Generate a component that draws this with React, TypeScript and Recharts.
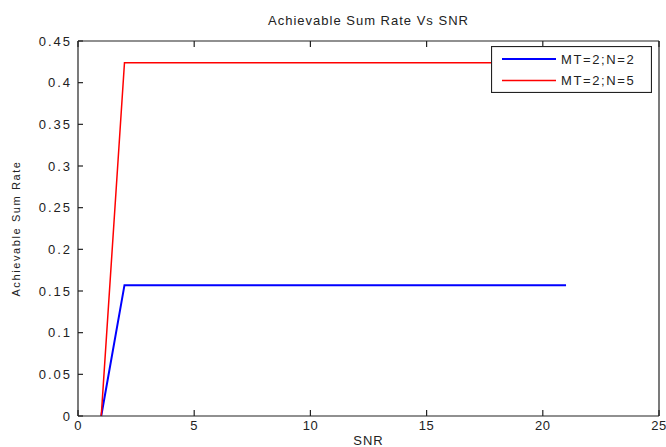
import React from "react";
import { LineChart, Line, XAxis, YAxis, Legend } from "recharts";

// SNR values and the two achievable sum rate curves
const snr = [1, 2, 3, 4, 5, 6, 7, 8, 9, 10, 11, 12, 13, 14, 15, 16, 17, 18, 19, 20, 21];
const rateN2 = [0, 0.157, 0.157, 0.157, 0.157, 0.157, 0.157, 0.157, 0.157, 0.157, 0.157, 0.157, 0.157, 0.157, 0.157, 0.157, 0.157, 0.157, 0.157, 0.157, 0.157];
const rateN5 = [0, 0.424, 0.424, 0.424, 0.424, 0.424, 0.424, 0.424, 0.424, 0.424, 0.424, 0.424, 0.424, 0.424, 0.424, 0.424, 0.424, 0.424, 0.424, 0.424, 0.424];

const xTicks = [0, 5, 10, 15, 20, 25];
const yTicks = [0, 0.05, 0.1, 0.15, 0.2, 0.25, 0.3, 0.35, 0.4, 0.45];
const seriesNames = ["MT=2;N=2", "MT=2;N=5"];
const seriesColors = ["#0000ff", "#ff0000"];

const data = snr.map((s, i) => ({ snr: s, n2: rateN2[i], n5: rateN5[i] }));

const FONT = "'Liberation Sans', Arial, sans-serif";
const axisColor = "#222";

const NoTick = () => <g />;

const LegendBox = () => (
  <svg width={161} height={47}>
    <rect x={0.5} y={0.5} width={160} height={46} fill="#fff" stroke={axisColor} strokeWidth={1.2} />
    {seriesNames.map((name, i) => (
      <g key={name}>
        <line x1={11} x2={65} y1={13 + i * 21.5} y2={13 + i * 21.5} stroke={seriesColors[i]} strokeWidth={i === 0 ? 2 : 1.5} />
        <text x={70} y={13 + i * 21.5} dy="0.36em" fontSize={13} letterSpacing={1.6} fill="#222" fontFamily={FONT}>
          {name}
        </text>
      </g>
    ))}
  </svg>
);

export default function App() {
  return (
    <div style={{ position: "absolute", left: 0, top: 0, width: 666, height: 447, background: "#fff", fontFamily: FONT }}>
      <LineChart width={666} height={447} data={data} margin={{ top: 40, right: 6, left: 0, bottom: 0 }}>
        <XAxis
          xAxisId="b"
          dataKey="snr"
          type="number"
          domain={[0, 25]}
          ticks={xTicks}
          height={31}
          tickSize={-6}
          tickMargin={11}
          stroke={axisColor}
          strokeWidth={1.2}
          tick={{ fill: "#222", fontSize: 13, fontFamily: FONT, letterSpacing: 0.5 }}
          label={{ value: "SNR", position: "insideBottom", offset: 2, fill: "#222", fontSize: 13, fontFamily: FONT, letterSpacing: 1 }}
        />
        <XAxis
          xAxisId="t"
          orientation="top"
          dataKey="snr"
          type="number"
          domain={[0, 25]}
          ticks={xTicks}
          height={1}
          tickSize={-6}
          stroke={axisColor}
          strokeWidth={1.2}
          tick={NoTick}
          label={{ value: "Achievable Sum Rate Vs SNR", position: "top", offset: 15, fill: "#222", fontSize: 13, fontFamily: FONT, letterSpacing: 1 }}
        />
        <YAxis
          yAxisId="l"
          type="number"
          domain={[0, 0.45]}
          ticks={yTicks}
          width={78}
          tickSize={-5}
          tickMargin={11}
          stroke={axisColor}
          strokeWidth={1.2}
          tick={{ fill: "#222", fontSize: 13, fontFamily: FONT, letterSpacing: 2 }}
          label={{ value: "Achievable Sum Rate", angle: -90, position: "insideLeft", offset: 16, fill: "#222", fontSize: 11, fontFamily: FONT, letterSpacing: 1.6, style: { textAnchor: "middle" } }}
        />
        <YAxis
          yAxisId="r"
          orientation="right"
          type="number"
          domain={[0, 0.45]}
          ticks={yTicks}
          width={1}
          tickSize={-5}
          stroke={axisColor}
          strokeWidth={1.2}
          tick={NoTick}
        />
        <Legend
          layout="horizontal"
          verticalAlign="middle"
          align="center"
          content={LegendBox}
          wrapperStyle={{ left: 491, top: 46, width: 161, height: 47 }}
        />
        <Line xAxisId="b" yAxisId="l" dataKey="n2" name={seriesNames[0]} stroke={seriesColors[0]} strokeWidth={2} dot={false} isAnimationActive={false} type="linear" />
        <Line xAxisId="b" yAxisId="l" dataKey="n5" name={seriesNames[1]} stroke={seriesColors[1]} strokeWidth={1.5} dot={false} isAnimationActive={false} type="linear" />
      </LineChart>
    </div>
  );
}
